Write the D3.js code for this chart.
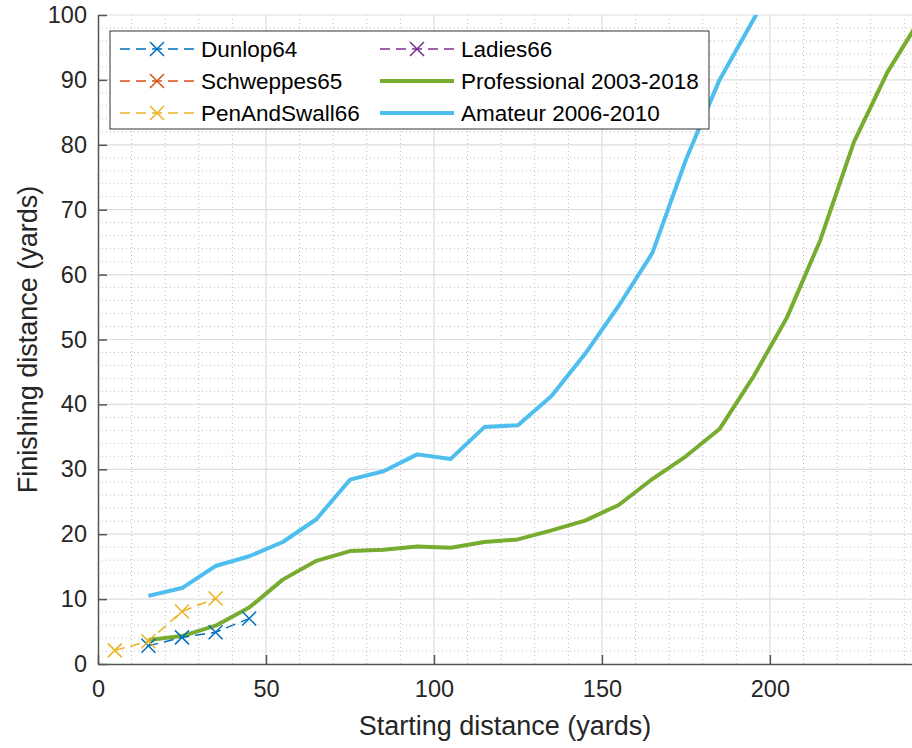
<!DOCTYPE html>
<html>
<head>
<meta charset="utf-8">
<script src="https://cdn.jsdelivr.net/npm/d3@7/dist/d3.min.js"></script>
<style>
  html, body { margin: 0; padding: 0; background: #fff; }
  svg { display: block; font-family: "Liberation Sans", Arial, sans-serif; }
  .minor line { stroke: #bdbdbd; stroke-dasharray: 1 3; stroke-width: 1; }
  .major line { stroke: #dedede; stroke-width: 1.2; }
</style>
</head>
<body>
<svg id="chart"></svg>
<script>
// series data
const dunlopX = [15, 25, 35, 45]
const dunlopY = [2.8, 4.1, 4.9, 7.0]
const schweppesX = []
const schweppesY = []
const penX = [5, 15, 25, 35]
const penY = [2.1, 3.5, 8.1, 10.1]
const ladiesX = []
const ladiesY = []
const proX = [15, 25, 35, 45, 55, 65, 75, 85, 95, 105, 115, 125, 135, 145, 155, 165, 175, 185, 195, 205, 215, 225, 235, 245]
const proY = [3.7, 4.3, 5.9, 8.7, 13.0, 15.9, 17.4, 17.6, 18.1, 17.9, 18.8, 19.2, 20.6, 22.1, 24.5, 28.5, 32.0, 36.2, 44.2, 53.3, 65.3, 80.4, 91.2, 99.6]
const amX = [15, 25, 35, 45, 55, 65, 75, 85, 95, 105, 115, 125, 135, 145, 155, 165, 175, 185, 195, 205]
const amY = [10.5, 11.7, 15.1, 16.6, 18.8, 22.3, 28.4, 29.7, 32.3, 31.6, 36.5, 36.8, 41.3, 47.8, 55.2, 63.3, 77.7, 90.0, 99.2, 108.5]

const xTicks = [0, 50, 100, 150, 200]
const yTicks = [0, 10, 20, 30, 40, 50, 60, 70, 80, 90, 100]

const series = [
  { name: 'Dunlop64', xs: dunlopX, ys: dunlopY, color: '#0072BD', dashed: true },
  { name: 'Schweppes65', xs: schweppesX, ys: schweppesY, color: '#D95319', dashed: true },
  { name: 'PenAndSwall66', xs: penX, ys: penY, color: '#EDB120', dashed: true },
  { name: 'Ladies66', xs: ladiesX, ys: ladiesY, color: '#7E2F8E', dashed: true },
  { name: 'Professional 2003-2018', xs: proX, ys: proY, color: '#77AC30', dashed: false },
  { name: 'Amateur 2006-2010', xs: amX, ys: amY, color: '#4DBEEE', dashed: false }
]

const width = 912
const height = 748
const margin = { top: 15, right: 0, bottom: 84, left: 98 }
const innerW = width - margin.left - margin.right
const innerH = height - margin.top - margin.bottom

const $svg = d3.select('#chart').attr('width', width).attr('height', height)

const scaleX = d3.scaleLinear().domain([0, 242.3]).range([0, innerW])
const scaleY = d3.scaleLinear().domain([0, 100]).range([innerH, 0])

const $g = $svg.append('g').attr('transform', `translate(${margin.left},${margin.top})`)

$svg.append('defs').append('clipPath').attr('id', 'clip')
  .append('rect').attr('width', innerW).attr('height', innerH)

// minor grid
const minorX = d3.range(10, 250, 10).filter(d => d % 50 !== 0 && d < 242.3)
const minorY = d3.range(2, 100, 2).filter(d => d % 10 !== 0)
const $minor = $g.append('g').attr('class', 'minor')
$minor.selectAll('line.vx').data(minorX).join('line').attr('class', 'vx')
  .attr('x1', d => scaleX(d)).attr('x2', d => scaleX(d))
  .attr('y1', 0).attr('y2', innerH)
$minor.selectAll('line.hy').data(minorY).join('line').attr('class', 'hy')
  .attr('x1', 0).attr('x2', innerW)
  .attr('y1', d => scaleY(d)).attr('y2', d => scaleY(d))

// major grid
const $major = $g.append('g').attr('class', 'major')
$major.selectAll('line.vx').data(xTicks.slice(1)).join('line').attr('class', 'vx')
  .attr('x1', d => scaleX(d)).attr('x2', d => scaleX(d))
  .attr('y1', 0).attr('y2', innerH)
$major.selectAll('line.hy').data(yTicks.slice(1)).join('line').attr('class', 'hy')
  .attr('x1', 0).attr('x2', innerW)
  .attr('y1', d => scaleY(d)).attr('y2', d => scaleY(d))

// axes
const axisColor = '#262626'
const xAxis = d3.axisBottom(scaleX).tickValues(xTicks).tickSizeInner(-9).tickSizeOuter(0).tickPadding(20)
const yAxis = d3.axisLeft(scaleY).tickValues(yTicks).tickSizeInner(-9).tickSizeOuter(0).tickPadding(20)

const $xAxis = $g.append('g').attr('transform', `translate(0,${innerH})`).call(xAxis)
const $yAxis = $g.append('g').call(yAxis)
for (const $a of [$xAxis, $yAxis]) {
  $a.select('.domain').attr('stroke', '#555').attr('stroke-width', 1.5)
  $a.selectAll('.tick line').attr('stroke', '#555').attr('stroke-width', 1.5)
  $a.selectAll('.tick text').attr('fill', axisColor).style('font-size', '23.5px')
}
$yAxis.selectAll('.tick text').attr('x', -11)
$xAxis.selectAll('.tick text').attr('y', 16)

$svg.append('text')
  .attr('x', margin.left + innerW / 2).attr('y', 735)
  .attr('text-anchor', 'middle').attr('fill', axisColor)
  .style('font-size', '27px')
  .text('Starting distance (yards)')

$svg.append('text')
  .attr('transform', `translate(37,${margin.top + innerH / 2}) rotate(-90)`)
  .attr('text-anchor', 'middle').attr('fill', axisColor)
  .style('font-size', '27px')
  .text('Finishing distance (yards)')

// lines
const line = d3.line().x(d => scaleX(d[0])).y(d => scaleY(d[1]))
const $plot = $g.append('g').attr('clip-path', 'url(#clip)')

const drawOrder = [4, 5, 0, 1, 2, 3]
drawOrder.forEach(i => {
  const s = series[i]
  const pts = s.xs.map((x, j) => [x, s.ys[j]])
  if (!pts.length) return
  $plot.append('path').datum(pts)
    .attr('d', line).attr('fill', 'none')
    .attr('stroke', s.color)
    .attr('stroke-width', s.dashed ? 1.5 : 4)
    .attr('stroke-dasharray', s.dashed ? '10 6' : null)
    .attr('stroke-linejoin', 'round')
  if (s.dashed) {
    $plot.selectAll(null).data(pts).join('path')
      .attr('transform', d => `translate(${scaleX(d[0])},${scaleY(d[1])})`)
      .attr('d', 'M-7,-7L7,7M-7,7L7,-7')
      .attr('stroke', s.color).attr('stroke-width', 1.5)
  }
})

// legend
const $legend = $svg.append('g').attr('transform', 'translate(110,31)')
$legend.append('rect').attr('width', 599).attr('height', 98)
  .attr('fill', '#fff').attr('stroke', '#333').attr('stroke-width', 1)

const colX = [8, 268]
const rowY = [18, 50, 82]
series.forEach((s, i) => {
  const cx = colX[Math.floor(i / 3)]
  const cy = rowY[i % 3]
  const $e = $legend.append('g').attr('transform', `translate(${cx},${cy})`)
  $e.append('line').attr('x1', 2).attr('x2', 76).attr('y1', 0).attr('y2', 0)
    .attr('stroke', s.color)
    .attr('stroke-width', s.dashed ? 1.5 : 4)
    .attr('stroke-dasharray', s.dashed ? '10 6' : null)
  if (s.dashed) {
    $e.append('path').attr('transform', 'translate(39,0)')
      .attr('d', 'M-7,-7L7,7M-7,7L7,-7')
      .attr('stroke', s.color).attr('stroke-width', 1.5)
  }
  $e.append('text').attr('x', 83).attr('y', 0).attr('dy', '0.35em')
    .attr('fill', '#000').style('font-size', '22.5px')
    .text(s.name)
})
</script>
</body>
</html>
